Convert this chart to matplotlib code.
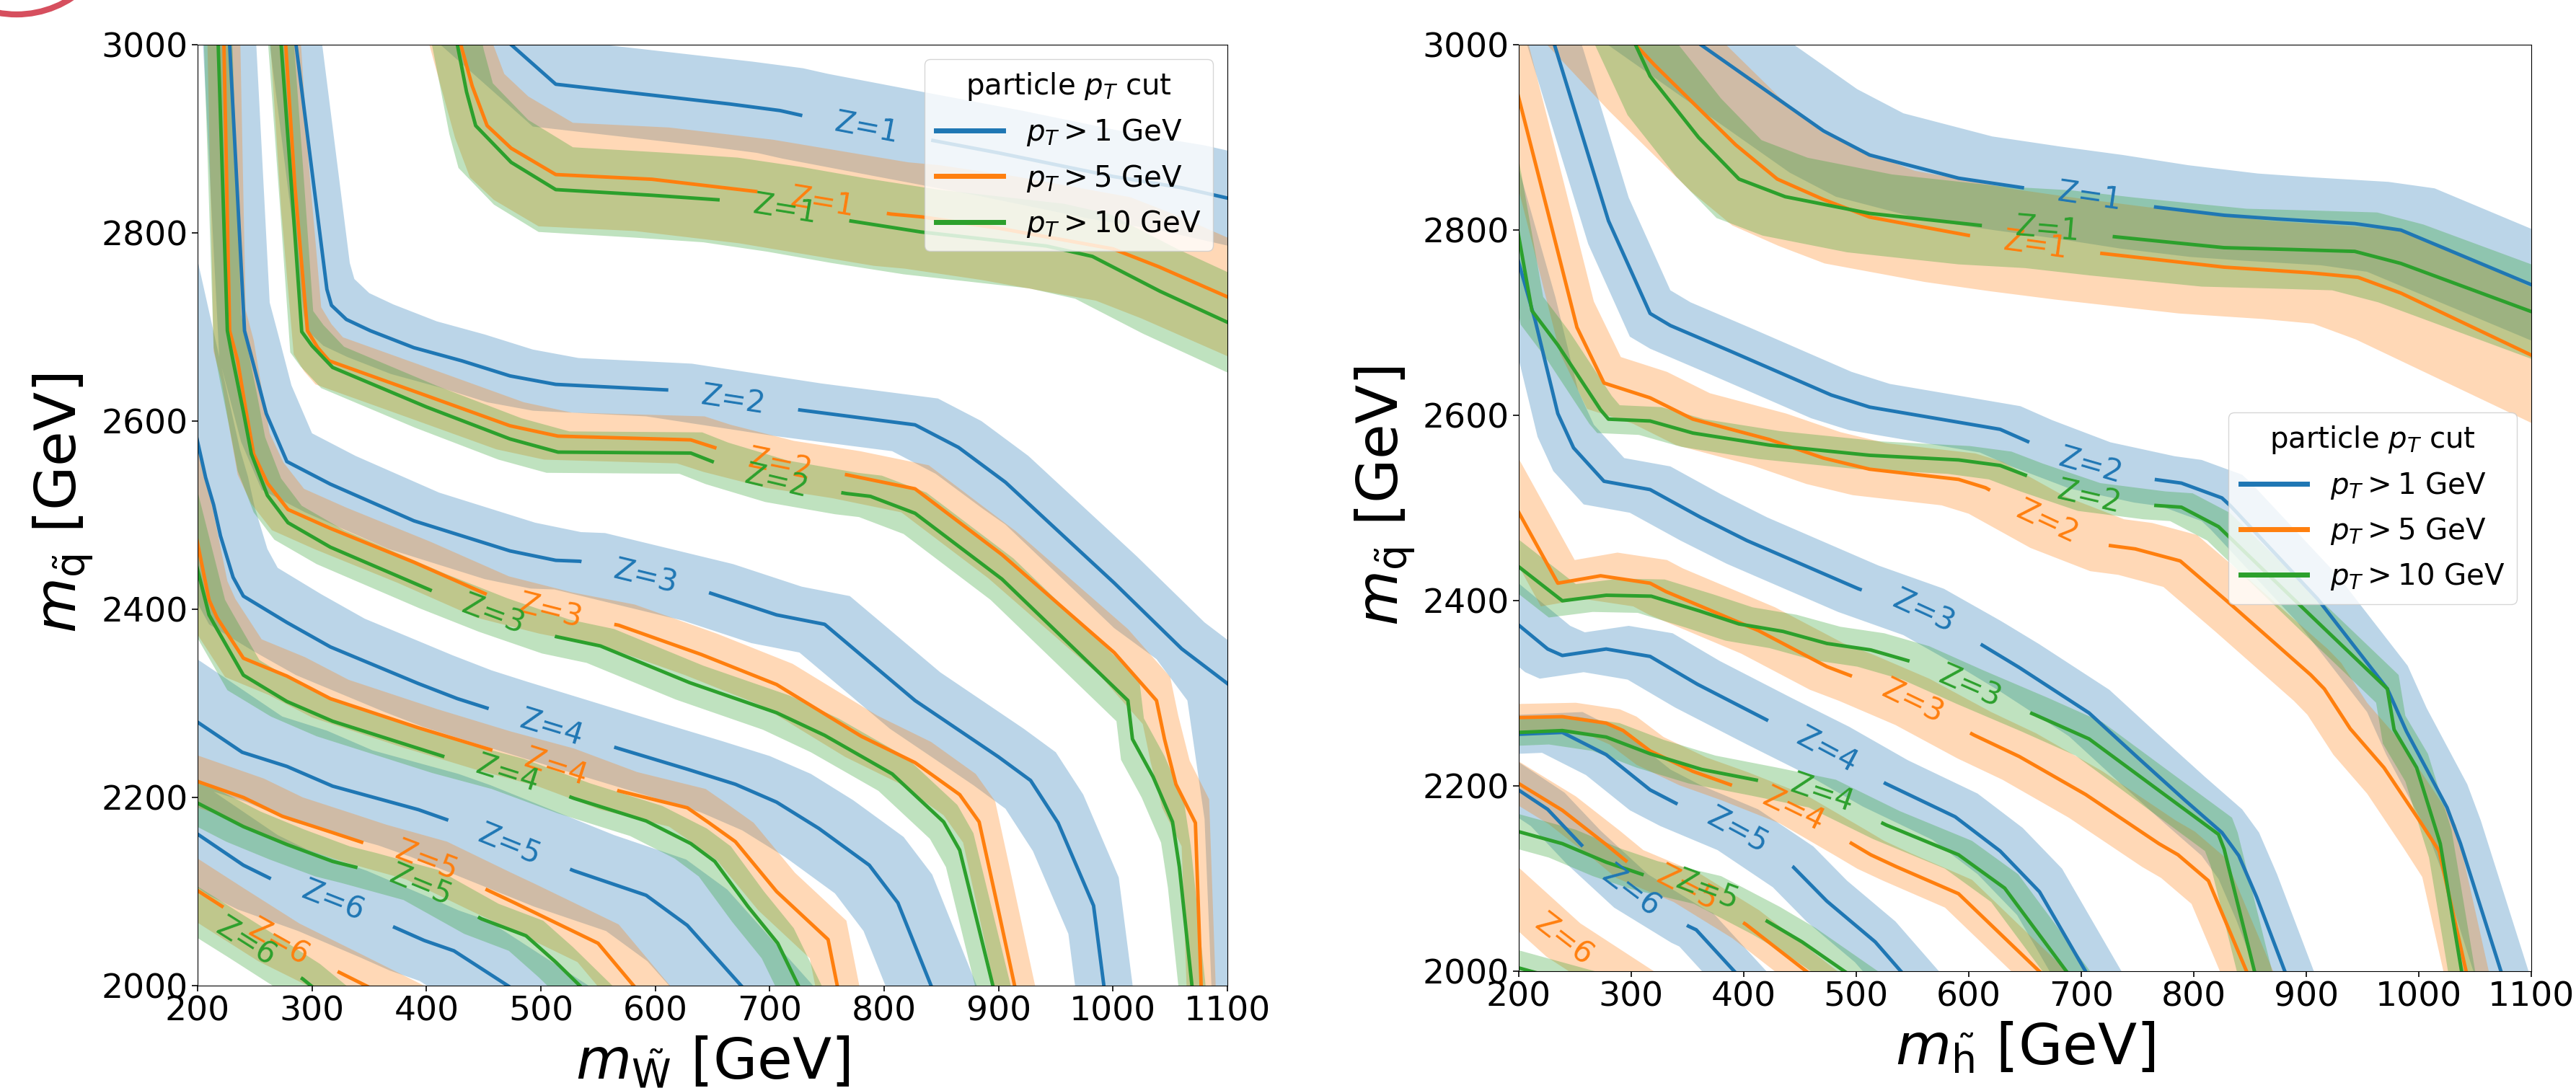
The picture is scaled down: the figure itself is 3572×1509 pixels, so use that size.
import numpy as np
import matplotlib
matplotlib.use("Agg")
import matplotlib.pyplot as plt
from matplotlib.path import Path
from matplotlib.patches import PathPatch, Circle
from matplotlib.lines import Line2D

# ---------------- data ----------------
cut_labels = ["$p_T > 1$ GeV", "$p_T > 5$ GeV", "$p_T > 10$ GeV"]
cut_colors = ["#1f77b4", "#ff7f0e", "#2ca02c"]
z_levels = [1, 2, 3, 4, 5, 6]
x_ticks = [200, 300, 400, 500, 600, 700, 800, 900, 1000, 1100]
y_ticks = [2000, 2200, 2400, 2600, 2800, 3000]

# ----- wino panel (left), pT > 1 GeV -----
wino_pt1_z1 = [(474,3000),(513,2958),(600,2946),(665,2937),(709,2930),(731,2924),(813,2905),(900,2885),(1000,2860),(1060,2848),(1100,2837)]
wino_pt1_z2 = [(286,3000),(313,2740),(317,2723),(330,2708),(351,2696),(389,2678),(431,2664),(473,2648),(513,2639),(612,2633),(725,2612),(827,2596),(865,2572),(906,2535),(1001,2428),(1060,2358),(1100,2321)]
wino_pt1_z3 = [(228,3000),(241,2696),(248,2664),(260,2608),(278,2557),(316,2533),(389,2494),(473,2462),(513,2452),(534,2451),(646,2418),(706,2394),(748,2384),(827,2303),(900,2243),(928,2218),(952,2173),(983,2085),(992,2000)]
wino_pt1_z4 = [(200,2578),(207,2540),(214,2511),(220,2478),(231,2434),(240,2414),(278,2386),(316,2360),(393,2321),(427,2305),(458,2293),(568,2252),(628,2230),(670,2214),(706,2195),(743,2167),(787,2128),(812,2088),(841,2000)]
wino_pt1_z5 = [(200,2280),(239,2248),(278,2233),(318,2212),(393,2187),(421,2175),(529,2122),(592,2096),(628,2064),(675,2000)]
wino_pt1_z6 = [(200,2161),(240,2128),(265,2113),(318,2090),(372,2062),(398,2048),(424,2037),(471,2000)]
wino_pt1_labels = [(785,2913),(669,2630),(592,2438),(510,2277),(474,2155),(318,2090)]
wino_pt1_band = [(20,45),(20,28),(22,30),(30,30),(35,38),(30,32)]
# lower band edge of the Z=2 contour where it bends down (lower right)
wino_pt1_z2_lower_edge = [(906,2490),(1001,2380),(1038,2347),(1065,2303),(1080,2177),(1086,2000)]

# ----- wino panel, pT > 5 GeV -----
wino_pt5_z1 = [(430,3000),(440,2956),(453,2914),(474,2890),(513,2862),(597,2857),(688,2844),(806,2820),(833,2817),(900,2805),(1000,2783),(1040,2764),(1100,2732)]
wino_pt5_z2 = [(277,3000),(285,2850),(296,2696),(305,2678),(315,2664),(400,2627),(473,2595),(515,2584),(631,2580),(654,2571),(709,2554),(767,2543),(827,2528),(903,2458),(1001,2354),(1038,2303),(1045,2262),(1055,2214),(1072,2173),(1077,2000)]
wino_pt5_z3 = [(223,3000),(228,2696),(235,2664),(242,2613),(249,2565),(261,2534),(279,2506),(316,2486),(389,2450),(458,2413),(513,2396),(568,2383),(640,2352),(706,2320),(780,2265),(827,2237),(866,2203),(883,2174),(897,2096),(914,2000)]
wino_pt5_z4 = [(200,2470),(205,2440),(210,2410),(217,2391),(240,2348),(278,2329),(316,2305),(393,2274),(458,2250),(513,2232),(568,2207),(628,2189),(647,2173),(670,2153),(706,2100),(751,2049),(759,2000)]
wino_pt5_z5 = [(200,2217),(240,2200),(274,2180),(317,2163),(347,2151),(400,2133),(456,2100),(477,2088),(550,2045),(581,2000)]
wino_pt5_z6 = [(200,2101),(223,2083),(271,2046),(324,2014),(347,2000)]
wino_pt5_labels = [(746,2834),(709,2554),(508,2398),(513,2232),(400,2133),(271,2046)]
wino_pt5_band = [(15,55),(12,25),(14,22),(16,20),(18,20),(18,20)]

# ----- wino panel, pT > 10 GeV -----
wino_pt10_z1 = [(427,3000),(435,2950),(443,2914),(474,2875),(513,2846),(597,2840),(657,2835),(713,2825),(769,2813),(832,2801),(942,2786),(982,2775),(1041,2738),(1100,2705)]
wino_pt10_z2 = [(273,3000),(282,2850),(291,2695),(300,2680),(318,2657),(400,2615),(473,2581),(515,2567),(631,2566),(654,2555),(706,2536),(767,2523),(788,2520),(827,2502),(903,2432),(1013,2303),(1017,2262),(1035,2222),(1052,2174),(1058,2126),(1069,2000)]
wino_pt10_z3 = [(218,3000),(226,2696),(231,2664),(240,2610),(247,2565),(261,2521),(279,2492),(316,2466),(406,2419),(458,2394),(513,2371),(552,2361),(630,2322),(706,2290),(748,2266),(807,2225),(852,2174),(866,2144),(895,2000)]
wino_pt10_z4 = [(200,2442),(210,2394),(216,2381),(240,2330),(278,2302),(318,2281),(419,2242),(471,2225),(529,2199),(592,2175),(631,2151),(652,2132),(681,2084),(707,2045),(725,2000)]
wino_pt10_z5 = [(200,2194),(240,2169),(278,2150),(318,2132),(341,2125),(395,2107),(448,2071),(487,2053),(513,2025),(534,2000)]
wino_pt10_z6 = [(200,2078),(242,2046),(292,2007),(299,2000)]
wino_pt10_labels = [(713,2825),(706,2536),(458,2394),(471,2225),(395,2107),(242,2046)]
wino_pt10_band = [(15,45),(10,22),(12,18),(14,16),(15,16),(15,16)]

# ----- higgsino panel (right), pT > 1 GeV -----
hino_pt1_z1 = [(362,3000),(471,2907),(512,2881),(591,2856),(652,2845),(707,2836),(765,2825),(827,2816),(874,2812),(943,2807),(984,2800),(1100,2741)]
hino_pt1_z2 = [(232,3000),(280,2810),(317,2710),(335,2697),(389,2669),(478,2622),(512,2609),(628,2585),(656,2570),(708,2546),(765,2531),(789,2527),(825,2511),(833,2502),(910,2402),(972,2305),(989,2259),(1025,2177),(1037,2138),(1073,2000)]
hino_pt1_z3 = [(200,2766),(215,2702),(235,2602),(249,2565),(276,2529),(317,2520),(362,2490),(403,2465),(502,2413),(560,2388),(611,2353),(645,2328),(707,2279),(751,2230),(792,2185),(825,2150),(840,2125),(856,2080),(881,2000)]
hino_pt1_z4 = [(200,2374),(226,2348),(239,2341),(278,2348),(317,2340),(359,2310),(423,2270),(474,2239),(526,2203),(588,2167),(628,2130),(663,2086),(704,2000)]
hino_pt1_z5 = [(200,2256),(239,2258),(278,2234),(317,2196),(344,2179),(395,2153),(444,2113),(474,2076),(517,2032),(540,2000)]
hino_pt1_z6 = [(200,2196),(226,2175),(258,2134),(300,2087),(351,2049),(358,2045),(392,2000)]
hino_pt1_labels = [(707,2836),(708,2544),(560,2388),(474,2239),(395,2153),(300,2087)]
hino_pt1_band = [(30,45),(18,25),(18,25),(20,25),(18,22),(15,18)]

# ----- higgsino panel, pT > 5 GeV -----
hino_pt5_z1 = [(304,3000),(321,2978),(393,2892),(430,2855),(471,2833),(512,2814),(601,2794),(659,2784),(717,2775),(827,2760),(902,2754),(946,2749),(984,2732),(1100,2665)]
hino_pt5_z2 = [(200,2944),(226,2820),(252,2695),(276,2635),(317,2619),(355,2596),(423,2574),(471,2554),(512,2542),(591,2531),(615,2522),(670,2485),(723,2460),(748,2456),(788,2443),(834,2395),(904,2320),(916,2305),(939,2262),(969,2220),(1001,2162),(1018,2130),(1042,2000)]
hino_pt5_z3 = [(200,2496),(235,2419),(273,2427),(317,2419),(331,2410),(413,2368),(474,2329),(500,2317),(550,2291),(605,2255),(645,2232),(704,2191),(769,2138),(786,2126),(813,2098),(847,2000)]
hino_pt5_z4 = [(200,2274),(239,2275),(278,2268),(293,2260),(317,2238),(355,2216),(392,2200),(444,2175),(495,2139),(513,2126),(536,2113),(591,2084),(663,2000)]
hino_pt5_z5 = [(200,2203),(239,2174),(278,2137),(299,2116),(350,2090),(402,2051),(456,2000)]
hino_pt5_z6 = [(200,2078),(240,2034),(283,2000)]
hino_pt5_labels = [(659,2784),(670,2485),(550,2291),(444,2175),(350,2090),(240,2034)]
hino_pt5_band = [(40,50),(15,28),(15,25),(12,15),(12,15),(15,18)]

# ----- higgsino panel, pT > 10 GeV -----
hino_pt10_z1 = [(304,3000),(317,2966),(360,2900),(396,2855),(437,2836),(512,2818),(611,2805),(670,2801),(728,2793),(827,2781),(888,2779),(943,2777),(984,2764),(1100,2712)]
hino_pt10_z2 = [(200,2795),(212,2713),(235,2676),(273,2606),(280,2596),(317,2594),(355,2581),(423,2568),(512,2557),(591,2552),(628,2546),(656,2533),(707,2512),(765,2503),(789,2501),(822,2480),(904,2384),(972,2305),(978,2261),(998,2220),(1019,2138),(1038,2000)]
hino_pt10_z3 = [(200,2437),(239,2400),(278,2406),(318,2405),(361,2389),(396,2375),(435,2367),(474,2354),(513,2347),(553,2333),(601,2307),(659,2277),(707,2251),(765,2199),(822,2148),(827,2132),(854,2000)]
hino_pt10_z4 = [(200,2258),(239,2260),(278,2253),(317,2235),(363,2218),(418,2205),(470,2192),(527,2158),(591,2126),(632,2090),(687,2000)]
hino_pt10_z5 = [(200,2151),(239,2138),(278,2118),(312,2104),(368,2088),(420,2055),(452,2032),(490,2000)]
hino_pt10_z6 = [(200,2004),(212,2000)]
hino_pt10_labels = [(670,2801),(707,2512),(601,2307),(470,2192),(368,2088),None]
hino_pt10_band = [(20,42),(10,15),(12,18),(12,15),(12,15),(12,15)]

# ---------------- assembly ----------------
wino_sets = [
    ([wino_pt1_z1, wino_pt1_z2, wino_pt1_z3, wino_pt1_z4, wino_pt1_z5, wino_pt1_z6], wino_pt1_labels, wino_pt1_band,
     {1: wino_pt1_z2_lower_edge}),
    ([wino_pt5_z1, wino_pt5_z2, wino_pt5_z3, wino_pt5_z4, wino_pt5_z5, wino_pt5_z6], wino_pt5_labels, wino_pt5_band, {}),
    ([wino_pt10_z1, wino_pt10_z2, wino_pt10_z3, wino_pt10_z4, wino_pt10_z5, wino_pt10_z6], wino_pt10_labels, wino_pt10_band, {}),
]
hino_sets = [
    ([hino_pt1_z1, hino_pt1_z2, hino_pt1_z3, hino_pt1_z4, hino_pt1_z5, hino_pt1_z6], hino_pt1_labels, hino_pt1_band, {}),
    ([hino_pt5_z1, hino_pt5_z2, hino_pt5_z3, hino_pt5_z4, hino_pt5_z5, hino_pt5_z6], hino_pt5_labels, hino_pt5_band, {}),
    ([hino_pt10_z1, hino_pt10_z2, hino_pt10_z3, hino_pt10_z4, hino_pt10_z5, hino_pt10_z6], hino_pt10_labels, hino_pt10_band, {}),
]

LW = 3.5
LABEL_FS = 30
GAP = 91  # half-gap in display pixels around inline labels


def extend(P, L=400.0):
    P = np.asarray(P, float)
    d0 = P[0] - P[1]
    d0 /= np.hypot(*d0)
    d1 = P[-1] - P[-2]
    d1 /= np.hypot(*d1)
    return np.vstack([P[0] + L * d0, P, P[-1] + L * d1])


def band_path(curves, bands, lower_edges):
    verts, codes = [], []
    for k, (P, (dx, dy)) in enumerate(zip(curves, bands)):
        Pa = np.asarray(P, float)
        up = extend(Pa + np.array([dx, dy]))
        if k in lower_edges:
            edge = np.asarray(lower_edges[k], float)
            lo_pts = Pa - np.array([dx, dy])
            lo_pts = lo_pts[lo_pts[:, 0] < edge[0, 0]]
            lo = extend(np.vstack([lo_pts, edge]))
        else:
            lo = extend(Pa - np.array([dx, dy]))
        poly = np.vstack([up, lo[::-1], up[:1]])
        verts.append(poly)
        codes += [Path.MOVETO] + [Path.LINETO] * (len(poly) - 2) + [Path.CLOSEPOLY]
    return Path(np.vstack(verts), codes)


def draw_line(ax, P, color, lab, z):
    E = extend(P)
    if lab is None:
        ax.plot(E[:, 0], E[:, 1], color=color, lw=LW)
        return
    D = ax.transData.transform(E)
    seg = np.diff(D, axis=0)
    L = np.hypot(seg[:, 0], seg[:, 1])
    s = np.concatenate([[0], np.cumsum(L)])
    inv = ax.transData.inverted()
    q = ax.transData.transform([lab])[0]
    best = (np.inf, 0.0)
    for i in range(len(seg)):
        if L[i] == 0:
            continue
        t = np.clip(np.dot(q - D[i], seg[i]) / L[i] ** 2, 0, 1)
        p = D[i] + t * seg[i]
        dd = np.hypot(*(p - q))
        if dd < best[0]:
            best = (dd, s[i] + t * L[i])
    s0 = best[1]

    def pt(sv):
        return np.array([np.interp(sv, s, D[:, 0]), np.interp(sv, s, D[:, 1])])

    a, b = s0 - GAP, s0 + GAP
    part1 = np.vstack([D[s < a], pt(a)])
    part2 = np.vstack([pt(b), D[s > b]])
    for part in (part1, part2):
        dp = inv.transform(part)
        ax.plot(dp[:, 0], dp[:, 1], color=color, lw=LW, solid_capstyle="butt")
    c = inv.transform([pt(s0)])[0]
    v = pt(s0 + 6) - pt(s0 - 6)
    ang = np.degrees(np.arctan2(v[1], v[0]))
    if ang > 90:
        ang -= 180
    if ang < -90:
        ang += 180
    ax.text(c[0], c[1], f"Z={z}", color=color, fontsize=LABEL_FS, rotation=ang,
            rotation_mode="anchor", ha="center", va="center", zorder=4)


fig = plt.figure(figsize=(35.72, 15.09), dpi=100)
ax1 = fig.add_axes([0.07671, 0.09410, 0.39978, 0.86481])
ax2 = fig.add_axes([0.58945, 0.10703, 0.39325, 0.85189])

for ax, sets, xlabel, loc in [
    (ax1, wino_sets, r"$m_{\tilde{\mathrm{W}}}$ [GeV]", "upper right"),
    (ax2, hino_sets, r"$m_{\tilde{\mathrm{h}}}$ [GeV]", "center right"),
]:
    ax.set_xlim(200, 1100)
    ax.set_ylim(2000, 3000)
    for (curves, labels, bands, lower_edges), color in zip(sets, cut_colors):
        ax.add_patch(PathPatch(band_path(curves, bands, lower_edges), facecolor=color,
                               alpha=0.3, lw=0, zorder=1))
        for P, lab, z in zip(curves, labels, z_levels):
            draw_line(ax, P, color, lab, z)
    ax.set_xticks(x_ticks)
    ax.set_yticks(y_ticks)
    ax.tick_params(labelsize=34, length=6, width=1.2)
    ax.set_xlabel(xlabel, fontsize=57, labelpad=7)
    ax.set_ylabel(r"$m_{\tilde{\mathrm{q}}}$ [GeV]", fontsize=57)
    ax.yaxis.set_label_coords(-0.099, 0.513)
    handles = [Line2D([], [], color=c, lw=5) for c in cut_colors]
    ax.legend(handles, cut_labels, title="particle $p_T$ cut", fontsize=29,
              title_fontsize=29, loc=loc, handlelength=2.3)

fig.add_artist(Circle((0.23, 16.286), 1.396, transform=fig.dpi_scale_trans,
                      fill=False, ec="#d64f5e", lw=6))

fig.savefig("out.png", dpi=100)
